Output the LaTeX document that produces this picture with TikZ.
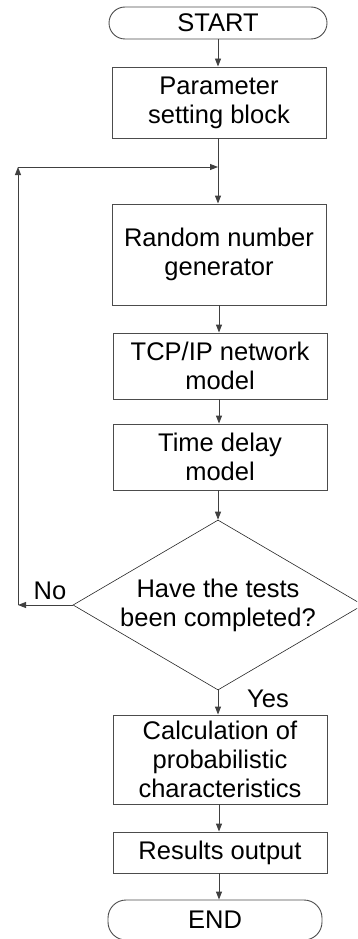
\documentclass[tikz,border=0pt]{standalone}
\usepackage{fontspec}
\setmainfont{Liberation Sans}
\usetikzlibrary{shapes.geometric,arrows.meta}
\begin{document}
\begin{tikzpicture}[x=1pt,y=-1pt,
  every node/.style={font=\fontsize{25.5}{29}\selectfont, align=center, inner sep=0pt},
  procbox/.style={draw=black!70, line width=0.9pt, minimum width=214pt},
  term/.style={draw=black!70, line width=0.9pt, rounded corners=16pt},
  decis/.style={diamond, draw=black!85, line width=0.6pt, minimum width=290pt, minimum height=170pt, aspect=1.7},
  arr/.style={draw=black!75, line width=0.9pt, -{Triangle[length=8pt,width=6pt]}},
  ln/.style={draw=black!75, line width=0.9pt}]
\useasboundingbox (0,0) rectangle (357,939);
\clip (0,0) rectangle (357,939);
\node[term, minimum width=218pt, minimum height=32pt] (start) at (218,23) {START};
\node[procbox, minimum height=71pt] (param) at (219,102.5) {Parameter\\setting block};
\node[procbox, minimum height=101pt] (rng) at (219,254.5) {Random number\\generator};
\node[procbox, minimum height=66pt] (tcp) at (220,366) {TCP/IP network\\model};
\node[procbox, minimum height=66pt] (td) at (220,457) {Time delay\\model};
\node[decis] (dec) at (218,605) {Have the tests\\been completed?};
\node[procbox, minimum height=89pt] (calc) at (220,759.5) {Calculation of\\probabilistic\\characteristics};
\node[procbox, minimum height=41pt] (res) at (220,852.5) {Results output};
\node[term, minimum width=214pt, minimum height=40pt, rounded corners=18pt] (end) at (215,920) {END};
\node (no) at (50,591) {No};
\node (yes) at (268,699) {Yes};
\coordinate (c1) at (18,605);
\coordinate (c2) at (18,167);
\coordinate (m) at (218,167);
\draw[arr] (start.south -| 218,0) -- (param.north -| 218,0);
\draw[arr] (param.south -| 218,0) -- (rng.north -| 218,0);
\draw[arr] (rng.south -| 219,0) -- (tcp.north -| 219,0);
\draw[arr] (tcp.south -| 219,0) -- (td.north -| 219,0);
\draw[arr] (td.south -| 218,0) -- (dec.north);
\draw[arr] (dec.west) -- (c1);
\draw[arr] (c1) -- (c2);
\draw[arr] (c2) -- (m);
\draw[arr] (dec.south) -- (calc.north -| 218,0);
\draw[arr] (calc.south -| 219,0) -- (res.north -| 219,0);
\draw[arr] (res.south -| 219,0) -- (end.north -| 219,0);
\end{tikzpicture}
\end{document}
